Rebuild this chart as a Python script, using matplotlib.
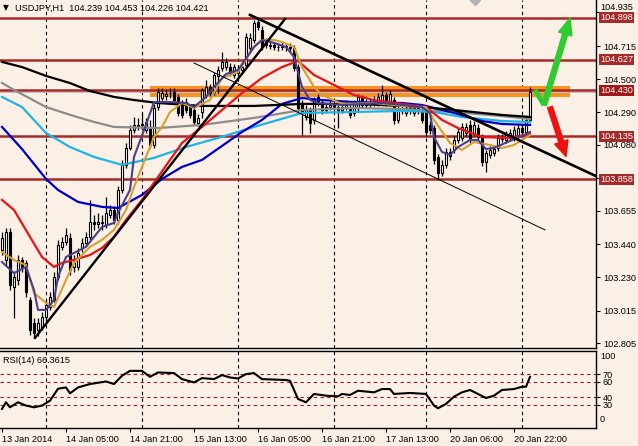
import matplotlib
matplotlib.use("Agg")
import matplotlib.pyplot as plt
import matplotlib.transforms as mtransforms
from matplotlib.patches import Rectangle, FancyArrowPatch

# USDJPY H1 - barra 0 = 13 Jan 13:00
opens = [103.404, 103.340, 103.520, 103.166, 103.211, 103.340, 103.321, 103.083, 102.935, 102.890,
         102.909, 102.974, 103.038, 103.083, 103.231, 103.424, 103.456, 103.481, 103.295, 103.295,
         103.417, 103.449, 103.488, 103.584, 103.571, 103.584, 103.565, 103.629, 103.661, 103.597,
         103.790, 103.951, 104.060, 104.175, 104.208, 104.208, 104.175, 104.188, 104.079, 104.323,
         104.381, 104.394, 104.413, 104.420, 104.388, 104.343, 104.355, 104.323, 104.304, 104.220,
         104.291, 104.400, 104.452, 104.420, 104.523, 104.574, 104.580, 104.580, 104.529, 104.542,
         104.561, 104.593, 104.702, 104.754, 104.870, 104.818, 104.741, 104.722, 104.722, 104.709,
         104.709, 104.715, 104.709, 104.702, 104.580, 104.349, 104.259, 104.304, 104.240, 104.388,
         104.355, 104.304, 104.323, 104.336, 104.323, 104.304, 104.323, 104.317, 104.285, 104.317,
         104.381, 104.336, 104.349, 104.349, 104.349, 104.355, 104.400, 104.349, 104.368, 104.240,
         104.304, 104.285, 104.317, 104.285, 104.317, 104.304, 104.291, 104.208, 104.188, 104.002,
         103.899, 103.951, 104.034, 104.047, 104.111, 104.124, 104.156, 104.208, 104.156, 104.188,
         104.130, 103.970, 104.015, 104.028, 104.060, 104.124, 104.111, 104.124, 104.124, 104.143,
         104.188, 104.163, 104.239]
closes = [103.481, 103.520, 103.179, 103.231, 103.340, 103.295, 103.134, 102.890, 102.871, 102.935,
          102.974, 103.051, 103.102, 103.231, 103.436, 103.456, 103.501, 103.276, 103.327, 103.385,
          103.449, 103.488, 103.584, 103.571, 103.584, 103.578, 103.642, 103.661, 103.597, 103.790,
          103.951, 104.060, 104.175, 104.208, 104.201, 104.214, 104.227, 104.079, 104.317, 104.420,
          104.413, 104.407, 104.410, 104.368, 104.285, 104.272, 104.304, 104.272, 104.227, 104.253,
          104.433, 104.452, 104.413, 104.529, 104.561, 104.613, 104.613, 104.542, 104.580, 104.561,
          104.580, 104.773, 104.767, 104.863, 104.837, 104.709, 104.722, 104.718, 104.709, 104.712,
          104.715, 104.709, 104.702, 104.574, 104.317, 104.285, 104.304, 104.220, 104.368, 104.355,
          104.304, 104.323, 104.336, 104.323, 104.304, 104.323, 104.336, 104.272, 104.349, 104.388,
          104.336, 104.349, 104.346, 104.368, 104.388, 104.400, 104.349, 104.407, 104.240, 104.304,
          104.300, 104.317, 104.304, 104.317, 104.304, 104.240, 104.163, 104.175, 103.983, 103.899,
          103.951, 104.034, 104.008, 104.111, 104.163, 104.195, 104.195, 104.111, 104.208, 104.130,
          103.970, 104.028, 104.047, 104.050, 104.124, 104.120, 104.143, 104.156, 104.175, 104.188,
          104.163, 104.240, 104.421]
highs = [103.520, 103.546, 103.546, 103.263, 103.372, 103.359, 103.340, 103.102, 102.967, 102.967,
         103.006, 103.083, 103.134, 103.263, 103.469, 103.488, 103.546, 103.514, 103.372, 103.417,
         103.481, 103.520, 103.726, 103.629, 103.642, 103.629, 103.745, 103.694, 103.687, 103.816,
         103.983, 104.092, 104.208, 104.259, 104.253, 104.285, 104.253, 104.240, 104.343, 104.445,
         104.445, 104.439, 104.445, 104.445, 104.407, 104.368, 104.381, 104.343, 104.323, 104.278,
         104.445, 104.497, 104.471, 104.548, 104.587, 104.677, 104.638, 104.606, 104.600, 104.587,
         104.606, 104.799, 104.799, 104.882, 104.889, 104.844, 104.767, 104.748, 104.741, 104.735,
         104.741, 104.735, 104.735, 104.722, 104.600, 104.368, 104.336, 104.323, 104.388, 104.407,
         104.375, 104.349, 104.362, 104.362, 104.343, 104.349, 104.368, 104.343, 104.368, 104.407,
         104.400, 104.375, 104.375, 104.394, 104.413, 104.465, 104.420, 104.433, 104.388, 104.330,
         104.330, 104.343, 104.336, 104.343, 104.336, 104.330, 104.310, 104.233, 104.208, 104.021,
         103.983, 104.060, 104.060, 104.137, 104.188, 104.220, 104.220, 104.240, 104.233, 104.214,
         104.150, 104.047, 104.073, 104.073, 104.150, 104.150, 104.169, 104.182, 104.201, 104.214,
         104.208, 104.259, 104.453]
lows = [103.372, 103.308, 103.147, 102.967, 103.179, 103.263, 103.102, 102.858, 102.839, 102.852,
        102.890, 102.954, 103.019, 103.070, 103.211, 103.404, 103.436, 103.244, 103.263, 103.276,
        103.391, 103.430, 103.469, 103.533, 103.546, 103.533, 103.546, 103.610, 103.571, 103.571,
        103.771, 103.931, 104.047, 104.156, 104.175, 104.175, 104.156, 104.060, 104.060, 104.304,
        104.355, 104.368, 104.381, 104.343, 104.266, 104.253, 104.285, 104.253, 104.208, 104.201,
        104.253, 104.381, 104.394, 104.400, 104.413, 104.555, 104.561, 104.523, 104.510, 104.523,
        104.542, 104.574, 104.677, 104.735, 104.818, 104.690, 104.702, 104.696, 104.690, 104.683,
        104.690, 104.683, 104.677, 104.555, 104.291, 104.143, 104.240, 104.156, 104.214, 104.330,
        104.278, 104.285, 104.304, 104.291, 104.188, 104.285, 104.304, 104.253, 104.266, 104.298,
        104.317, 104.317, 104.323, 104.330, 104.330, 104.336, 104.330, 104.330, 104.214, 104.220,
        104.278, 104.266, 104.278, 104.266, 104.278, 104.220, 104.137, 104.150, 103.957, 103.854,
        103.880, 103.931, 103.983, 104.028, 104.092, 104.105, 104.137, 104.092, 104.137, 104.111,
        103.944, 103.906, 103.995, 104.008, 104.040, 104.099, 104.092, 104.105, 104.105, 104.124,
        104.143, 104.143, 104.226]

ma_black_x = [0, 5, 11, 17, 22, 28, 33, 39, 50, 63, 75, 88, 100, 105, 113, 120, 125, 132]
ma_black = [104.613, 104.580, 104.523, 104.477, 104.426, 104.388, 104.368, 104.349, 104.330, 104.330,
            104.343, 104.343, 104.330, 104.323, 104.304, 104.285, 104.272, 104.259]
ma_gray_x = [0, 3, 11, 18, 23, 28, 39, 50, 63, 75, 88, 100, 113, 125, 132]
ma_gray = [104.478, 104.433, 104.323, 104.265, 104.227, 104.195, 104.188, 104.208, 104.253, 104.304,
           104.317, 104.310, 104.291, 104.265, 104.246]
ma_cyan_x = [0, 5, 11, 17, 23, 30, 38, 46, 54, 63, 75, 88, 100, 108, 115, 125, 132]
ma_cyan = [104.388, 104.323, 104.156, 104.066, 104.002, 103.951, 103.996, 104.066, 104.124, 104.195,
           104.285, 104.291, 104.298, 104.291, 104.259, 104.233, 104.227]
ma_blue_x = [0, 5, 11, 14, 19, 25, 29, 35, 40, 45, 50, 55, 60, 65, 70, 75, 80, 88, 100, 105,
             113, 120, 125, 132]
ma_blue = [104.195, 104.053, 103.861, 103.790, 103.713, 103.681, 103.674, 103.758, 103.861, 103.938,
           103.983, 104.073, 104.163, 104.240, 104.343, 104.381, 104.368, 104.355, 104.349, 104.336,
           104.285, 104.233, 104.214, 104.208]
ma_red_x = [0, 3, 7, 10, 13, 15, 18, 22, 25, 28, 31, 35, 39, 45, 50, 55, 60, 65, 70, 74,
            78, 83, 88, 93, 100, 106, 110, 114, 120, 127, 132]
ma_red = [103.726, 103.661, 103.488, 103.359, 103.295, 103.321, 103.340, 103.372, 103.417, 103.488,
          103.597, 103.726, 103.873, 104.092, 104.195, 104.304, 104.413, 104.510, 104.580, 104.619,
          104.529, 104.465, 104.400, 104.368, 104.343, 104.323, 104.240, 104.188, 104.130, 104.124,
          104.150]
ma_gold_x = [0, 3, 6, 8, 11, 13, 16, 18, 22, 25, 28, 31, 33, 36, 38, 40, 42, 45, 48, 52,
             55, 59, 63, 65, 68, 70, 73, 75, 78, 80, 85, 93, 100, 106, 108, 112, 115, 118, 122, 125,
             128, 132]
ma_gold = [103.391, 103.340, 103.308, 103.128, 103.064, 103.038, 103.211, 103.321, 103.424, 103.469,
           103.533, 103.661, 103.809, 104.002, 104.130, 104.195, 104.291, 104.349, 104.317, 104.368,
           104.510, 104.548, 104.709, 104.754, 104.754, 104.741, 104.709, 104.580, 104.452, 104.400,
           104.343, 104.349, 104.330, 104.323, 104.240, 104.092, 104.047, 104.098, 104.079, 104.060,
           104.079, 104.143]
ma_purple_x = [0, 3, 6, 8, 9, 11, 13, 14, 16, 18, 21, 23, 25, 28, 29, 32, 33, 36, 38, 42,
               46, 48, 51, 53, 56, 59, 63, 65, 68, 71, 73, 75, 77, 79, 85, 95, 105, 107, 108, 110,
               112, 114, 117, 119, 121, 123, 127, 130, 132]
ma_purple = [103.327, 103.256, 103.295, 103.147, 103.019, 103.019, 103.083, 103.231, 103.359, 103.385,
             103.424, 103.488, 103.552, 103.578, 103.642, 103.790, 104.002, 104.208, 104.355, 104.355,
             104.349, 104.323, 104.388, 104.452, 104.535, 104.561, 104.709, 104.754, 104.735, 104.709,
             104.645, 104.452, 104.368, 104.349, 104.336, 104.349, 104.323, 104.285, 104.130, 104.034,
             104.015, 104.066, 104.111, 104.111, 104.053, 104.060, 104.105, 104.137, 104.163]

# RSI(14)
rsi_x = [0, 1, 2, 4, 6, 8, 10, 12, 14, 16, 17, 19, 22, 26, 28, 30, 32, 35, 37, 39,
         43, 45, 48, 50, 53, 55, 57, 59, 61, 63, 65, 71, 72, 74, 76, 78, 81, 84, 85, 87,
         89, 93, 95, 97, 98, 102, 106, 108, 109, 111, 113, 115, 117, 119, 121, 123, 125, 128, 130, 131,
         132]
rsi = [24.8, 33.4, 26.9, 33.4, 29.1, 26.9, 29.1, 35.5, 51.0, 52.7, 45.0, 52.7, 57.1, 60.4, 57.1, 67.8,
       74.2, 74.2, 66.5, 72.1, 71.3, 63.5, 59.2, 64.8, 63.5, 68.7, 65.6, 64.3, 70.0, 71.3, 63.5, 62.3,
       61.3, 37.7, 33.4, 44.2, 42.0, 41.1, 44.2, 42.9, 48.4, 46.3, 50.6, 50.6, 44.2, 45.5, 44.2, 29.1,
       25.6, 31.3, 40.7, 46.3, 49.4, 44.2, 39.0, 42.0, 49.4, 50.6, 53.6, 53.6, 66.36]
rsi_levels = [30, 40, 60, 70]

# livelli e linee disegnate
levels = [104.898, 104.627, 104.135, 103.858]
key_level = 104.430
band_x = [37, 142]
band_y = [104.388, 104.458]
bid = 104.421
rise_line = ([8.25, 70.75], [102.839, 104.889])
desc_line = ([62, 149], [104.915, 103.873])
thin_line = ([48, 135.75], [104.606, 103.533])
green_x = [133.25, 135.5, 142.0]
green_y = [104.433, 104.336, 104.895]
red_x = [137.0, 141.0]
red_y = [104.323, 104.005]

price_ticks = [102.805, 103.015, 103.230, 103.440, 103.655, 104.080, 104.290, 104.500, 104.715]
top_tick = 104.935
day_sep = [11, 35, 59, 83, 106, 130]
time_ticks = [0, 16, 32, 48, 64, 80, 96, 112, 128]
time_labels = ['13 Jan 2014', '14 Jan 05:00', '14 Jan 21:00', '15 Jan 13:00', '16 Jan 05:00',
               '16 Jan 21:00', '17 Jan 13:00', '20 Jan 06:00', '20 Jan 22:00']

plt.rcParams['font.family'] = ['Liberation Sans', 'DejaVu Sans']
fs = 6.6
bg = '#FAF0E6'
lvl_col = '#A52A2A'

fig = plt.figure(figsize=(6.38, 4.46), dpi=100, facecolor=bg)
ax = fig.add_axes([0, 98 / 446, 596 / 638, 348 / 446], facecolor=bg)
rax = fig.add_axes([0, 18 / 446, 596 / 638, 77 / 446], facecolor=bg)

# --- grafico principale
ax.set_xlim(-0.5, 148.5)
ax.set_ylim(102.774, 105.011)
for s in ['top', 'left']:
    ax.spines[s].set_visible(False)
for s in ['right', 'bottom']:
    ax.spines[s].set_linewidth(1.0)
ax.set_xticks([])
ax.yaxis.tick_right()
ax.set_yticks(price_ticks + [103.870, top_tick])
ax.set_yticklabels(['%.3f' % t for t in price_ticks] + ['', ''])
ax.tick_params(axis='y', length=3, width=0.8, pad=2, labelsize=fs)
trans = mtransforms.blended_transform_factory(ax.transAxes, ax.transData)
ax.text(1.0065, top_tick, '%.3f' % top_tick, transform=trans, fontsize=fs, va='bottom', ha='left',
        clip_on=False)

for b in day_sep:
    ax.axvline(b, color='black', lw=0.8, ls=(0, (3, 3)), zorder=1)

ax.add_patch(Rectangle((band_x[0], band_y[0]), band_x[1] - band_x[0], band_y[1] - band_y[0],
                       color='#F7931E', lw=0, zorder=2))
ax.axhline(bid, color='#C0C0C0', lw=0.8, zorder=2)
for lv in levels + [key_level]:
    ax.axhline(lv, color=lvl_col, lw=1.8, zorder=2)

# candele
bars = list(range(len(closes)))
ax.vlines(bars, lows, highs, color='black', lw=0.9, zorder=3)
for i in bars:
    up = closes[i] >= opens[i]
    lo = min(opens[i], closes[i])
    h = max(abs(closes[i] - opens[i]), 0.002)
    ax.add_patch(Rectangle((i - 0.34, lo), 0.68, h, facecolor='white' if up else 'black',
                           edgecolor='black', lw=0.8, zorder=3))

# medie mobili
ax.plot(ma_gray_x, ma_gray, color='#8C8C8C', lw=1.6, zorder=4)
ax.plot(ma_cyan_x, ma_cyan, color='#1EB4E6', lw=1.6, zorder=4)
ax.plot(ma_blue_x, ma_blue, color='#0000CD', lw=1.6, zorder=4)
ax.plot(ma_black_x, ma_black, color='black', lw=1.6, zorder=4)
ax.plot(ma_red_x, ma_red, color='#E8141A', lw=1.6, zorder=4)
ax.plot(ma_gold_x, ma_gold, color='#D4A030', lw=1.5, zorder=4)
ax.plot(ma_purple_x, ma_purple, color='#4B3F8C', lw=1.5, zorder=4)

# trendline
ax.plot(*rise_line, color='black', lw=1.7, zorder=6)
ax.plot(*desc_line, color='black', lw=1.9, zorder=6)
ax.plot(*thin_line, color='black', lw=0.7, zorder=6)

# segno grigio in alto
ax.plot(118.25, 105.011, marker='D', ms=5, color='#B4B4B4', clip_on=True, zorder=9)

# frecce
ax.plot(green_x[:2], green_y[:2], color='#2ECC2E', lw=3.6, solid_capstyle='butt', zorder=8)
ax.add_patch(FancyArrowPatch((green_x[1], green_y[1]), (green_x[2], green_y[2]),
                             arrowstyle='simple,head_length=1.2,head_width=1.0,tail_width=0.36',
                             mutation_scale=10, color='#2ECC2E', shrinkA=0, shrinkB=0, zorder=8))
ax.add_patch(FancyArrowPatch((red_x[0], red_y[0]), (red_x[1], red_y[1]),
                             arrowstyle='simple,head_length=1.1,head_width=1.0,tail_width=0.36',
                             mutation_scale=10, color='#EE1111', shrinkA=0, shrinkB=0, zorder=8))

# etichette prezzo a destra
for lv in levels + [key_level]:
    ax.text(1.0065, lv, '%.3f' % lv, transform=trans, fontsize=fs, color='white', va='center',
            ha='left', clip_on=False, zorder=10,
            bbox=dict(boxstyle='square,pad=0.12', fc=lvl_col if lv != key_level else '#A01818', ec='none'))

fig.text(3 / 638, 1 - 8 / 446, '\u25bc', fontsize=5.5, va='center', family='DejaVu Sans')
fig.text(15 / 638, 1 - 8 / 446, 'USDJPY,H1  104.239 104.453 104.226 104.421', fontsize=fs, va='center')

# --- RSI
rax.set_xlim(-0.5, 148.5)
rax.set_ylim(0, 100)
rax.spines['left'].set_visible(False)
for s in ['top', 'right', 'bottom']:
    rax.spines[s].set_linewidth(1.0)
for b in day_sep:
    rax.axvline(b, color='black', lw=0.8, ls=(0, (3, 3)), zorder=1)
for lv in rsi_levels:
    rax.axhline(lv, color='#9B1B30', lw=0.8, ls=(0, (3, 3)), zorder=1)
rax.plot(rsi_x, rsi, color='black', lw=1.5, zorder=3)
rax.yaxis.tick_right()
rax.set_yticks(rsi_levels)
rax.set_yticklabels([str(v) for v in rsi_levels])
rax.tick_params(axis='y', length=3, width=0.8, pad=2, labelsize=fs)
rtrans = mtransforms.blended_transform_factory(rax.transAxes, rax.transData)
rax.text(1.0065, 99, '100', transform=rtrans, fontsize=fs, va='top', ha='left', clip_on=False)
rax.text(1.0065, 5, '0', transform=rtrans, fontsize=fs, va='bottom', ha='left', clip_on=False)
rax.text(0.005, 0.93, 'RSI(14) 66.3615', transform=rax.transAxes, fontsize=fs, va='top')
rax.set_xticks(time_ticks)
rax.set_xticklabels(time_labels, ha='left')
rax.tick_params(axis='x', length=3, width=0.8, pad=2, labelsize=fs)

fig.savefig('out.png', dpi=100, facecolor=bg)
